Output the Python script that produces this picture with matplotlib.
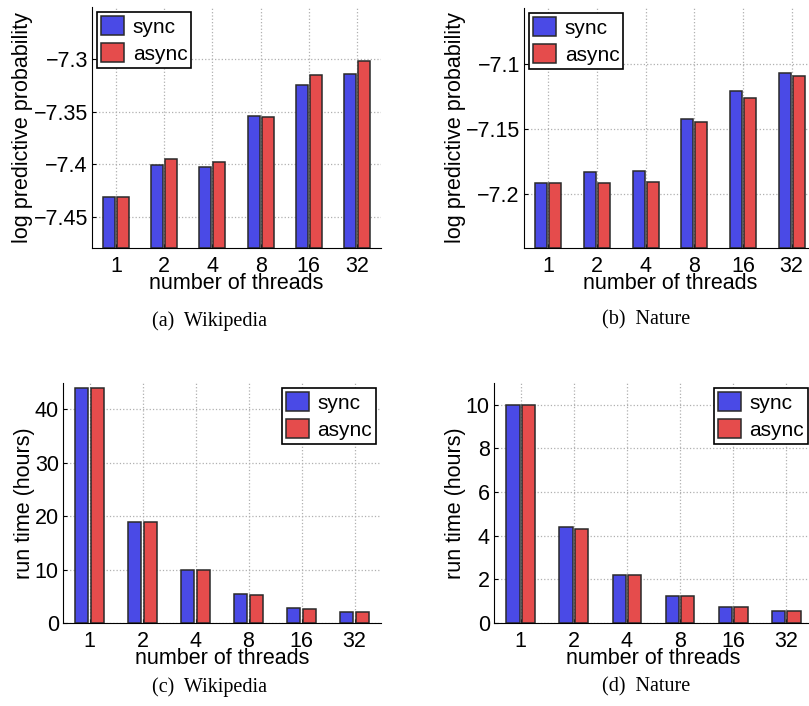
"""
Sync vs async: predictive probability and run time by number of threads.
"""
import matplotlib
matplotlib.use('Agg')
import matplotlib.pyplot as plt
import numpy as np

plt.rcParams['font.family'] = ['Liberation Sans', 'DejaVu Sans']

threads = ['1', '2', '4', '8', '16', '32']

# log predictive probability
wiki_lpp_sync = [-7.431, -7.401, -7.4025, -7.354, -7.3246, -7.3143]
wiki_lpp_async = [-7.431, -7.3955, -7.3984, -7.355, -7.3146, -7.302]
nature_lpp_sync = [-7.1913, -7.1831, -7.1821, -7.1418, -7.1202, -7.1067]
nature_lpp_async = [-7.1913, -7.191, -7.1903, -7.1446, -7.1262, -7.109]

# run time in hours
wiki_time_sync = [43.9, 18.9, 9.9, 5.42, 2.8, 2.1]
wiki_time_async = [43.9, 18.9, 9.85, 5.3, 2.7, 2.05]
nature_time_sync = [10.0, 4.39, 2.2, 1.24, 0.72, 0.56]
nature_time_async = [10.0, 4.29, 2.2, 1.24, 0.73, 0.56]

blue = '#4a4ae6'
red = '#e54c4c'
FS = 15.5
W, H = 809, 706
fig = plt.figure(figsize=(W / 100, H / 100), dpi=100)


def px_axes(left, top, right, bottom):
    return fig.add_axes([left / W, 1 - bottom / H, (right - left) / W, (bottom - top) / H])


def panel(ax, sync, asyn, ylim, yticks, ylabel, legend_loc):
    x = np.arange(1, len(threads) + 1)
    base = ylim[0]
    ax.set_axisbelow(True)
    # bars start at the bottom of the axes
    ax.bar(x - 0.145, np.array(sync) - base, 0.25, bottom=base,
           color=blue, edgecolor='#2a2a2a', linewidth=1.1, label='sync')
    ax.bar(x + 0.145, np.array(asyn) - base, 0.25, bottom=base,
           color=red, edgecolor='#2a2a2a', linewidth=1.1, label='async')
    ax.set_xlim(0.5, 6.5)
    ax.set_ylim(*ylim)
    ax.set_xticks(x)
    ax.set_xticklabels(threads)
    ax.set_yticks(yticks)
    ax.set_yticklabels([f'{t:g}'.replace('-', '\u2212') for t in yticks])
    ax.tick_params(direction='in', length=3, labelsize=FS)
    ax.tick_params(axis='x', pad=6)
    ax.tick_params(axis='y', pad=3)
    ax.grid(True, linestyle=':', color='#b0b0b0', linewidth=0.9)
    for s in ['top', 'right']:
        ax.spines[s].set_visible(False)
    ax.set_xlabel('number of threads', fontsize=FS, labelpad=-3)
    ax.set_ylabel(ylabel, fontsize=FS, labelpad=0)
    leg = ax.legend(loc=legend_loc, fontsize=15, fancybox=False, framealpha=1,
                    edgecolor='black', handlelength=1.1, handleheight=1.0,
                    handletextpad=0.4, labelspacing=0.3, borderpad=0.2,
                    borderaxespad=0.25)
    leg.get_frame().set_linewidth(1.2)


ax_a = px_axes(92, 7, 381, 248)
panel(ax_a, wiki_lpp_sync, wiki_lpp_async, (-7.48, -7.25),
      [-7.45, -7.4, -7.35, -7.3], 'log predictive probability', 'upper left')

ax_b = px_axes(524, 8, 816, 248)
panel(ax_b, nature_lpp_sync, nature_lpp_async, (-7.2413, -7.0567),
      [-7.2, -7.15, -7.1], 'log predictive probability', 'upper left')

ax_c = px_axes(63, 383, 381, 623)
panel(ax_c, wiki_time_sync, wiki_time_async, (0, 44.9), [0, 10, 20, 30, 40],
      'run time (hours)', 'upper right')

ax_d = px_axes(494, 383, 813, 623)
panel(ax_d, nature_time_sync, nature_time_async, (0, 11.0), [0, 2, 4, 6, 8, 10],
      'run time (hours)', 'upper right')

captions = [('(a)  Wikipedia', 209, 321), ('(b)  Nature', 646, 320),
            ('(c)  Wikipedia', 210, 687), ('(d)  Nature', 646, 687)]
for text, cx, cy in captions:
    fig.text(cx / W, 1 - cy / H, text, ha='center', va='center',
             fontsize=14.5, family='Liberation Serif')

fig.savefig('out.png', dpi=100)
